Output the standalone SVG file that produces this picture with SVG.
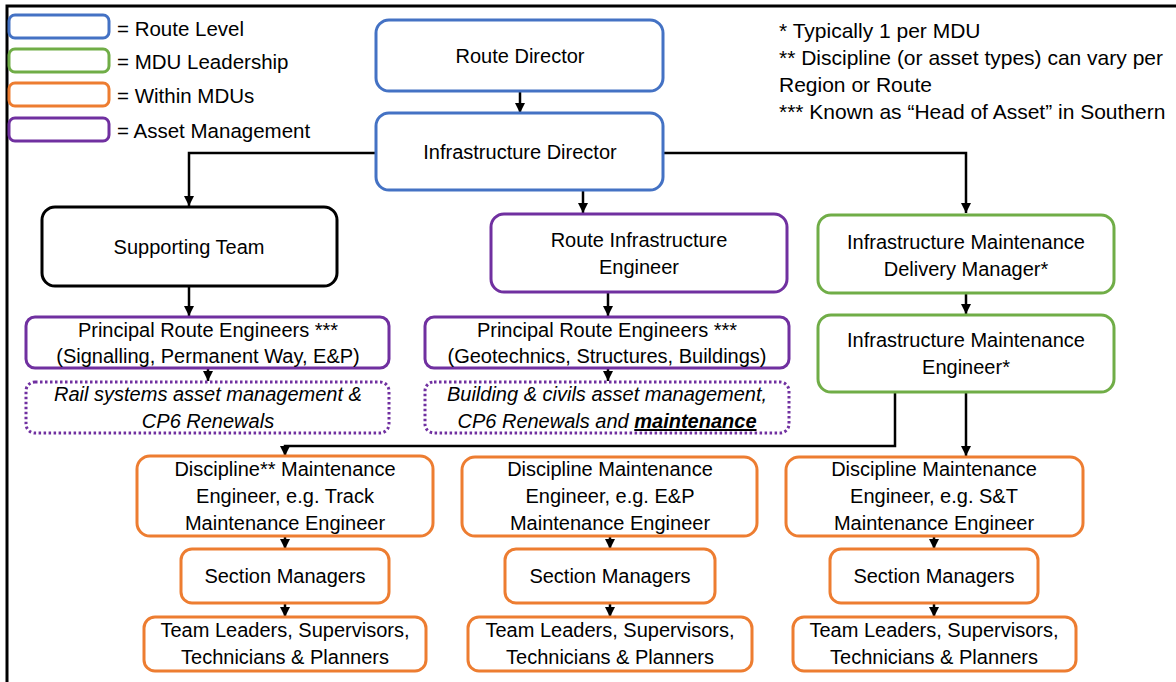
<svg xmlns="http://www.w3.org/2000/svg" width="1176" height="682" viewBox="0 0 1176 682">
<defs>
<marker id="ah" markerUnits="userSpaceOnUse" markerWidth="11" markerHeight="11" refX="10" refY="5" orient="auto">
<path d="M0,0 L10,5 L0,10 z" fill="#000"/>
</marker>
<style>
text{font-family:"Liberation Sans",Arial,sans-serif;font-size:20px;fill:#000;text-anchor:middle}
.lg{text-anchor:start;font-size:20.5px}
.nt{text-anchor:start;font-size:21px}
.it{font-style:italic;font-size:20px}
.box{fill:#fff;stroke-width:3}
.blue{stroke:#4472C4}
.green{stroke:#70AD47}
.orange{stroke:#ED7D31}
.purple{stroke:#7030A0}
.black{stroke:#000}
.dot{fill:#fff;stroke:#7030A0;stroke-width:3;stroke-dasharray:2.5 2.5}
.conn path{fill:none;stroke:#000;stroke-width:2.5}
</style>
</defs>
<rect width="1176" height="682" fill="#fff"/>
<path d="M7,682 V6 H1176" fill="none" stroke="#000" stroke-width="3"/>

<g id="legend">
<rect class="box blue" x="9" y="15" width="100" height="23" rx="6"/>
<rect class="box green" x="9" y="49" width="100" height="23" rx="6"/>
<rect class="box orange" x="9" y="83" width="100" height="23" rx="6"/>
<rect class="box purple" x="9" y="118" width="100" height="23" rx="6"/>
<text class="lg" x="117" y="36">= Route Level</text>
<text class="lg" x="117" y="69">= MDU Leadership</text>
<text class="lg" x="117" y="103">= Within MDUs</text>
<text class="lg" x="117" y="138">= Asset Management</text>
</g>

<g id="notes">
<text class="nt" x="779" y="38">* Typically 1 per MDU</text>
<text class="nt" x="779" y="65">** Discipline (or asset types) can vary per</text>
<text class="nt" x="779" y="92">Region or Route</text>
<text class="nt" x="779" y="119">*** Known as “Head of Asset” in Southern</text>
</g>

<g class="conn" id="connectors">
<path d="M520,91 V113" marker-end="url(#ah)"/>
<path d="M376,153 H189 V206" marker-end="url(#ah)"/>
<path d="M663,153 H966 V213" marker-end="url(#ah)"/>
<path d="M583,191 V213" marker-end="url(#ah)"/>
<path d="M189,286 V316" marker-end="url(#ah)"/>
<path d="M608,292 V316" marker-end="url(#ah)"/>
<path d="M966,293 V314" marker-end="url(#ah)"/>
<path d="M208,368 V381" marker-end="url(#ah)"/>
<path d="M608,368 V381" marker-end="url(#ah)"/>
<path d="M895,392 V446 H285 V456" marker-end="url(#ah)"/>
<path d="M966,392 V456" marker-end="url(#ah)"/>
<path d="M285,536 V549" marker-end="url(#ah)"/>
<path d="M610,536 V549" marker-end="url(#ah)"/>
<path d="M934,536 V549" marker-end="url(#ah)"/>
<path d="M285,603 V617" marker-end="url(#ah)"/>
<path d="M610,603 V617" marker-end="url(#ah)"/>
<path d="M934,603 V617" marker-end="url(#ah)"/>
</g>

<g id="route-director">
<rect class="box blue" x="376" y="20" width="287" height="71" rx="13"/>
<text x="520" y="63">Route Director</text>
</g>
<g id="infrastructure-director">
<rect class="box blue" x="376" y="113" width="287" height="77" rx="13"/>
<text x="520" y="159">Infrastructure Director</text>
</g>
<g id="supporting-team">
<rect class="box black" x="42" y="207" width="295" height="79" rx="13"/>
<text x="189" y="254">Supporting Team</text>
</g>
<g id="route-infrastructure-engineer">
<rect class="box purple" x="491" y="214" width="296" height="78" rx="13"/>
<text x="639" y="247">Route Infrastructure</text>
<text x="639" y="274">Engineer</text>
</g>
<g id="imdm">
<rect class="box green" x="818" y="215" width="296" height="78" rx="13"/>
<text x="966" y="249">Infrastructure Maintenance</text>
<text x="966" y="276">Delivery Manager*</text>
</g>
<g id="ime">
<rect class="box green" x="818" y="315" width="296" height="77" rx="13"/>
<text x="966" y="347">Infrastructure Maintenance</text>
<text x="966" y="374">Engineer*</text>
</g>
<g id="pre-left">
<rect class="box purple" x="26" y="317" width="363" height="51" rx="9"/>
<text x="208" y="337">Principal Route Engineers ***</text>
<text x="208" y="363">(Signalling, Permanent Way, E&amp;P)</text>
</g>
<g id="pre-middle">
<rect class="box purple" x="425" y="317" width="364" height="51" rx="9"/>
<text x="607" y="337">Principal Route Engineers ***</text>
<text x="607" y="363">(Geotechnics, Structures, Buildings)</text>
</g>
<g id="rail-systems">
<rect class="dot" x="26" y="382" width="363" height="51" rx="9"/>
<text class="it" x="208" y="401">Rail systems asset management &amp;</text>
<text class="it" x="208" y="428">CP6 Renewals</text>
</g>
<g id="building-civils">
<rect class="dot" x="425" y="382" width="364" height="51" rx="9"/>
<text class="it" x="607" y="401">Building &amp; civils asset management,</text>
<text class="it" x="607" y="428">CP6 Renewals and <tspan font-weight="bold" text-decoration="underline">maintenance</tspan></text>
</g>
<g id="discipline-track">
<rect class="box orange" x="137" y="456" width="296" height="80" rx="13"/>
<text x="285" y="476">Discipline** Maintenance</text>
<text x="285" y="503">Engineer, e.g. Track</text>
<text x="285" y="530">Maintenance Engineer</text>
</g>
<g id="discipline-ep">
<rect class="box orange" x="462" y="457" width="295" height="79" rx="13"/>
<text x="610" y="476">Discipline Maintenance</text>
<text x="610" y="503">Engineer, e.g. E&amp;P</text>
<text x="610" y="530">Maintenance Engineer</text>
</g>
<g id="discipline-st">
<rect class="box orange" x="786" y="457" width="297" height="79" rx="13"/>
<text x="934" y="476">Discipline Maintenance</text>
<text x="934" y="503">Engineer, e.g. S&amp;T</text>
<text x="934" y="530">Maintenance Engineer</text>
</g>
<g id="section-left">
<rect class="box orange" x="181" y="549" width="208" height="54" rx="11"/>
<text x="285" y="583">Section Managers</text>
</g>
<g id="section-middle">
<rect class="box orange" x="505" y="549" width="210" height="54" rx="11"/>
<text x="610" y="583">Section Managers</text>
</g>
<g id="section-right">
<rect class="box orange" x="830" y="549" width="208" height="54" rx="11"/>
<text x="934" y="583">Section Managers</text>
</g>
<g id="team-left">
<rect class="box orange" x="144" y="617" width="282" height="54" rx="11"/>
<text x="285" y="637">Team Leaders, Supervisors,</text>
<text x="285" y="664">Technicians &amp; Planners</text>
</g>
<g id="team-middle">
<rect class="box orange" x="468" y="617" width="284" height="54" rx="11"/>
<text x="610" y="637">Team Leaders, Supervisors,</text>
<text x="610" y="664">Technicians &amp; Planners</text>
</g>
<g id="team-right">
<rect class="box orange" x="793" y="617" width="283" height="54" rx="11"/>
<text x="934" y="637">Team Leaders, Supervisors,</text>
<text x="934" y="664">Technicians &amp; Planners</text>
</g>
</svg>
